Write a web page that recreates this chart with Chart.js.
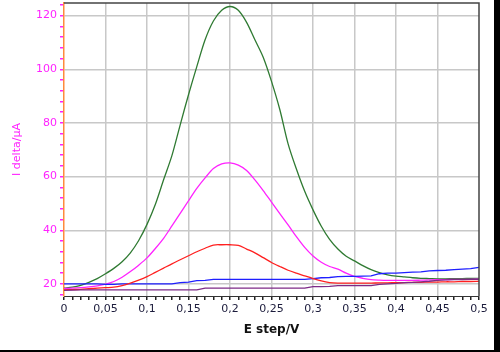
<!DOCTYPE html>
<html>
<head>
<meta charset="utf-8">
<script src="https://cdn.jsdelivr.net/npm/chart.js@4.4.1/dist/chart.umd.min.js"></script>
<style>
html,body{margin:0;padding:0;background:#fff;}
#box{width:494px;height:350px;border-right:6px solid #000;border-bottom:2px solid #000;background:#fff;}
canvas{display:block;}
</style>
</head>
<body>
<div id="box"><canvas id="c" width="494" height="350"></canvas></div>
<script>
const E = [0,0.01,0.02,0.03,0.04,0.05,0.06,0.07,0.08,0.09,0.10,0.11,0.12,0.13,0.14,0.15,0.16,0.17,0.18,0.19,0.20,0.21,0.22,0.23,0.24,0.25,0.26,0.27,0.28,0.29,0.30,0.31,0.32,0.33,0.34,0.35,0.36,0.37,0.38,0.39,0.40,0.41,0.42,0.43,0.44,0.45,0.46,0.47,0.48,0.49,0.50];

const greenSeries = [18.4,18.8,19.5,20.6,22.0,23.8,25.8,28.3,31.6,36.2,42.2,49.6,58.8,67.8,79.3,90.5,101.0,111.0,118.0,122.0,123.4,122.0,117.5,111.0,104.5,95.5,85.0,72.2,62.8,54.5,47.6,41.5,36.6,33.0,30.3,28.6,26.8,25.3,24.2,23.4,22.9,22.6,22.3,22.1,22.0,21.9,21.9,22.0,22.0,22.1,22.1];
const magentaSeries = [18.3,18.4,18.6,18.9,19.3,19.9,20.9,22.5,24.6,27.0,29.7,33.2,37.0,41.6,46.3,51.0,55.6,59.5,63.0,64.7,65.1,64.3,62.3,58.8,54.8,50.5,46.2,42.0,37.6,33.6,30.4,28.1,26.5,25.5,24.0,22.8,22.1,21.6,21.4,21.3,21.3,21.3,21.3,21.4,21.5,21.6,21.6,21.7,21.7,21.7,21.8];
const redSeries = [17.8,17.9,18.0,18.2,18.4,18.6,18.8,19.4,20.3,21.4,22.7,24.3,25.9,27.5,29.0,30.5,32.0,33.3,34.5,34.6,34.6,34.4,33.0,31.6,29.8,28.0,26.5,25.1,24.0,23.0,22.0,21.1,20.5,20.3,20.3,20.3,20.3,20.3,20.4,20.4,20.5,20.5,20.6,20.6,20.7,20.7,20.8,20.8,20.9,20.9,21.0];
const blueSeries = [20.0,20.0,20.0,20.0,20.0,19.8,19.8,20.0,20.0,20.0,20.0,20.0,20.0,20.0,20.5,20.7,21.2,21.3,21.7,21.7,21.7,21.7,21.7,21.7,21.7,21.7,21.7,21.7,21.7,21.7,22.0,22.3,22.4,22.7,22.8,22.8,22.9,23.0,23.8,24.0,24.0,24.2,24.4,24.5,24.9,25.0,25.1,25.3,25.5,25.7,26.2];
const purpleSeries = [17.6,17.7,17.8,17.8,17.8,17.8,17.8,17.8,17.8,17.8,17.8,17.8,17.8,17.8,17.8,17.8,17.8,18.4,18.4,18.4,18.4,18.4,18.4,18.4,18.4,18.4,18.4,18.4,18.4,18.4,19.0,19.0,19.1,19.4,19.4,19.4,19.4,19.4,19.8,20.0,20.2,20.5,20.6,20.8,21.0,21.3,21.5,21.6,21.6,21.7,21.7];

const xTickValues = [0,0.05,0.1,0.15,0.2,0.25,0.3,0.35,0.4,0.45,0.5];
const xTickLabels = ['0','0,05','0,1','0,15','0,2','0,25','0,3','0,35','0,4','0,45','0,5'];
const yTickValues = [20,40,60,80,100,120];
const yTickLabels = ['20','40','60','80','100','120'];
const xMinorStep = 0.01;
const yMinorStep = 4;

const FONT = "'DejaVu Sans', Verdana, sans-serif";

function pts(arr){ return E.map((e,i)=>({x:e,y:arr[i]})); }
function near(a,b){ return Math.abs(a-b) < 1e-6; }
function majorIdx(vals, v){ return vals.findIndex(t=>near(t,v)); }

const frame = {
  id:'frame',
  afterDraw(chart){
    const {ctx, chartArea:a} = chart;
    ctx.save();
    ctx.strokeStyle = '#444';
    ctx.lineWidth = 1.5;
    ctx.beginPath();
    ctx.moveTo(a.left, a.top);
    ctx.lineTo(a.right, a.top);
    ctx.lineTo(a.right, a.bottom);
    ctx.stroke();
    ctx.restore();
  }
};

function mk(label, arr, color, tension){
  return {label, data: pts(arr), borderColor: color, backgroundColor: color,
    borderWidth: 1.3, pointRadius: 0, tension: tension, fill: false};
}

new Chart(document.getElementById('c'), {
  type: 'line',
  data: {
    datasets: [
      mk('purple', purpleSeries, '#7d2a86', 0),
      mk('red', redSeries, '#ff2020', 0.3),
      mk('blue', blueSeries, '#1f1fff', 0),
      mk('magenta', magentaSeries, '#ff22ff', 0.3),
      mk('green', greenSeries, '#2f7a32', 0.3)
    ]
  },
  options: {
    responsive: false,
    animation: false,
    events: [],
    layout: { padding: { top: 3, right: 15, left: 0, bottom: 0 } },
    plugins: { legend: { display: false }, tooltip: { enabled: false } },
    scales: {
      x: {
        type: 'linear', min: 0, max: 0.5,
        afterBuildTicks(scale){
          const t = [];
          for (let v = 0; v <= 0.5 + 1e-9; v += xMinorStep) t.push({value: Math.round(v*100)/100});
          scale.ticks = t;
        },
        afterFit(scale){ scale.height = 54; },
        ticks: {
          autoSkip: false, maxRotation: 0, padding: 3,
          color: '#1c1c3c', font: { family: FONT, size: 11 },
          callback(v){ const i = majorIdx(xTickValues, v); return i >= 0 ? xTickLabels[i] : ''; }
        },
        grid: {
          color(ctx){ return (ctx.tick && majorIdx(xTickValues, ctx.tick.value) >= 0 && ctx.tick.value > 0 && ctx.tick.value < 0.5) ? '#c8c8c8' : 'rgba(0,0,0,0)'; },
          lineWidth: 1.5,
          tickColor: '#222', tickLength: 4, drawTicks: true
        },
        border: { color: '#333', width: 1 },
        title: { display: true, text: 'E step/V', color: '#111',
          font: { family: FONT, size: 12, weight: 'bold' }, padding: { top: 0, bottom: 13 } }
      },
      y: {
        type: 'linear', min: 15.5, max: 124.7,
        afterBuildTicks(scale){
          const t = [];
          for (let v = 16; v <= 124; v += yMinorStep) t.push({value: v});
          scale.ticks = t;
        },
        afterFit(scale){ scale.width = 64; scale.paddingTop = 0; scale.paddingBottom = 0; },
        ticks: {
          autoSkip: false, padding: 3,
          color: '#ff22ff', font: { family: FONT, size: 11 },
          callback(v){ const i = majorIdx(yTickValues, v); return i >= 0 ? yTickLabels[i] : ''; }
        },
        grid: {
          color(ctx){ return (ctx.tick && majorIdx(yTickValues, ctx.tick.value) >= 0) ? '#c8c8c8' : 'rgba(0,0,0,0)'; },
          lineWidth: 1.5,
          tickColor: '#ff22ff', tickLength: 4, drawTicks: true
        },
        border: { color: '#ff8a3d', width: 1.5 },
        title: { display: true, text: 'I delta/µA', color: '#ff22ff',
          font: { family: FONT, size: 11 }, padding: { top: 11, bottom: 0 } }
      }
    }
  },
  plugins: [frame]
});
</script>
</body>
</html>
